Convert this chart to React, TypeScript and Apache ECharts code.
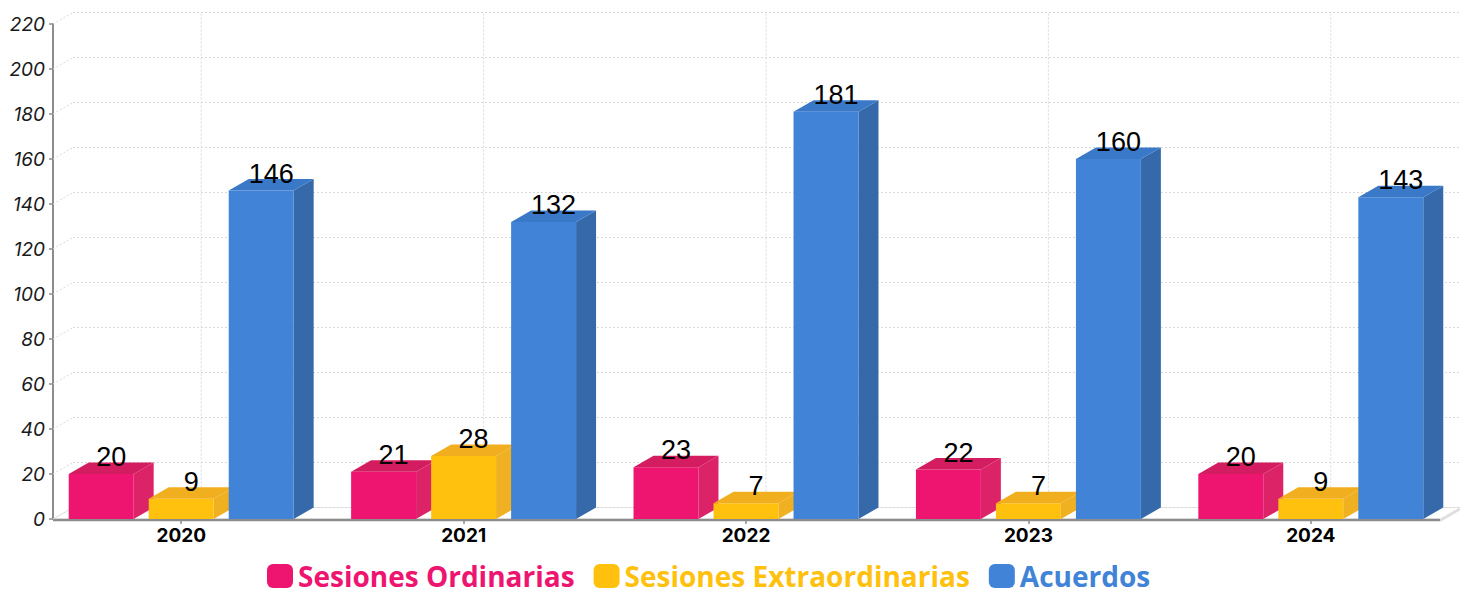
import React, { useEffect, useRef } from 'react';
import * as echarts from 'echarts';

const years = ['2020', '2021', '2022', '2023', '2024'];
const ordinarias = [20, 21, 23, 22, 20];
const extraordinarias = [9, 28, 7, 7, 9];
const acuerdos = [146, 132, 181, 160, 143];
const yTicks = [0, 20, 40, 60, 80, 100, 120, 140, 160, 180, 200, 220];

const DX = 20;
const DY = -11.5;
const AXIS_INSET_L = 13;
const AXIS_INSET_R = 12;
const GRID_COLOR = '#d9d9d9';
const AXIS_COLOR = '#8c8c8c';

const PALETTE = {
  pink: { front: '#ED1570', top: '#D41D60', side: '#DC2368' },
  yellow: { front: '#FFC10E', top: '#F1AE1F', side: '#EFB022' },
  blue: { front: '#4183D7', top: '#3A78C8', side: '#3669AA' },
};

function barSeries(name: string, values: number[], idx: number, colors: any) {
  return {
    type: 'custom',
    name,
    z: 3,
    itemStyle: { color: colors.front },
    data: values.map((v, i) => [i, v]),
    encode: { x: 0, y: 1 },
    renderItem: (params: any, api: any) => {
      const i = api.value(0);
      const v = api.value(1);
      const top = api.coord([i, v]);
      const base = api.coord([i, 0]);
      const band = api.size([1, 0])[0];
      const w = band * 0.23;
      const cx = top[0] + (idx - 1) * band * 0.2833;
      const xl = cx - w / 2;
      const xr = cx + w / 2;
      const yt = top[1];
      const yb = base[1];
      return {
        type: 'group',
        children: [
          {
            type: 'polygon',
            shape: { points: [[xr, yt], [xr + DX, yt + DY], [xr + DX, yb + DY], [xr, yb]] },
            style: { fill: colors.side },
          },
          {
            type: 'rect',
            shape: { x: xl, y: yt, width: w, height: yb - yt },
            style: { fill: colors.front },
          },
          {
            type: 'polygon',
            shape: { points: [[xl, yt], [xr, yt], [xr + DX, yt + DY], [xl + DX, yt + DY]] },
            style: { fill: colors.top },
          },
          {
            type: 'text',
            x: cx + DX / 2,
            y: yt - 17,
            z2: 10,
            style: {
              text: String(v),
              fill: '#000',
              fontSize: 27,
              fontFamily: '"Liberation Sans", Arial, sans-serif',
              align: 'center',
              verticalAlign: 'middle',
            },
          },
        ],
      };
    },
  };
}

export default function App() {
  const ref = useRef<HTMLDivElement>(null);
  useEffect(() => {
    if (!ref.current) return;
    const chart = echarts.init(ref.current, undefined, { renderer: 'svg' });
    const option: any = {
      animation: false,
      grid: { left: 40, right: 18, top: 24, bottom: 78, containLabel: false },
      xAxis: {
        type: 'category',
        data: years,
        axisLine: { show: false },
        axisTick: { show: true, alignWithLabel: true, length: 5, lineStyle: { color: AXIS_COLOR, width: 1.5 } },
        axisLabel: {
          color: '#000',
          fontSize: 19,
          fontWeight: 'bold',
          fontFamily: 'Inter, "Open Sans", sans-serif',
          margin: 7,
        },
        splitLine: { show: false },
      },
      yAxis: {
        type: 'value',
        min: 0,
        max: 220,
        interval: 20,
        offset: -AXIS_INSET_L,
        axisLine: { show: true, lineStyle: { color: AXIS_COLOR, width: 2 } },
        axisTick: { show: true, length: 4, lineStyle: { color: AXIS_COLOR, width: 1.5 } },
        axisLabel: {
          color: '#1a1a1a',
          fontSize: 19,
          fontStyle: 'italic',
          fontFamily: 'Inter, "Open Sans", sans-serif',
          margin: 8,
        },
        splitLine: { show: false },
      },
      legend: {
        top: 557,
        left: 262,
        icon: 'roundRect',
        itemWidth: 26,
        itemHeight: 24,
        itemGap: 19,
        textStyle: {
          fontSize: 28,
          lineHeight: 28,
          fontWeight: 'bold',
          fontFamily: '"Open Sans", sans-serif',
        },
        data: [
          { name: 'Sesiones Ordinarias', textStyle: { color: PALETTE.pink.front } },
          { name: 'Sesiones Extraordinarias', textStyle: { color: PALETTE.yellow.front } },
          { name: 'Acuerdos', textStyle: { color: PALETTE.blue.front } },
        ],
      },
      series: [
        {
          type: 'custom',
          name: 'floor',
          z: 1,
          silent: true,
          data: [[0, 0]],
          encode: { x: 0, y: 1 },
          renderItem: (params: any, api: any) => {
            const cs = params.coordSys;
            const y = api.coord([0, 0])[1];
            const xl = cs.x + AXIS_INSET_L;
            const xr = cs.x + cs.width - AXIS_INSET_R;
            return {
              type: 'group',
              children: [
                {
                  type: 'polygon',
                  shape: { points: [[xr, y], [xr + DX, y + DY], [xr + DX, y + DY + 3], [xr, y + 3]] },
                  style: { fill: '#dedede' },
                },
                {
                  type: 'polygon',
                  shape: { points: [[xl, y], [xr, y], [xr + DX, y + DY], [xl + DX, y + DY]] },
                  style: { fill: '#ffffff', stroke: '#e6e6e6', lineWidth: 1 },
                },
                {
                  type: 'line',
                  shape: { x1: xl, y1: y + 1, x2: xr, y2: y + 1 },
                  style: { stroke: AXIS_COLOR, lineWidth: 2.5 },
                },
              ],
            };
          },
        },
        {
          type: 'custom',
          name: 'wallH',
          z: 2,
          silent: true,
          data: yTicks.map((v) => [0, v]),
          encode: { x: 0, y: 1 },
          renderItem: (params: any, api: any) => {
            const cs = params.coordSys;
            const y = api.coord([0, api.value(1)])[1];
            const xl = cs.x + AXIS_INSET_L;
            const xr = cs.x + cs.width - AXIS_INSET_R;
            const st = { stroke: GRID_COLOR, lineWidth: 1, lineDash: [2, 2] };
            return {
              type: 'group',
              children: [
                { type: 'line', shape: { x1: xl, y1: y, x2: xl + DX, y2: y + DY }, style: st },
                { type: 'line', shape: { x1: xl + DX, y1: y + DY, x2: xr + DX, y2: y + DY }, style: st },
              ],
            };
          },
        },
        {
          type: 'custom',
          name: 'wallV',
          z: 2,
          silent: true,
          data: years.map((_, i) => [i, 0]),
          encode: { x: 0, y: 1 },
          renderItem: (params: any, api: any) => {
            const i = api.value(0);
            const p0 = api.coord([i, yTicks[0]]);
            const p1 = api.coord([i, yTicks[yTicks.length - 1]]);
            return {
              type: 'line',
              shape: { x1: p0[0] + DX, y1: p0[1] + DY, x2: p1[0] + DX, y2: p1[1] + DY },
              style: { stroke: GRID_COLOR, lineWidth: 1, lineDash: [2, 2] },
            };
          },
        },
        barSeries('Sesiones Ordinarias', ordinarias, 0, PALETTE.pink),
        barSeries('Sesiones Extraordinarias', extraordinarias, 1, PALETTE.yellow),
        barSeries('Acuerdos', acuerdos, 2, PALETTE.blue),
      ],
    };
    chart.setOption(option);
    return () => chart.dispose();
  }, []);
  return (
    <div
      ref={ref}
      style={{ position: 'fixed', left: 0, top: 0, width: 1470, height: 597, background: '#fff' }}
    />
  );
}
